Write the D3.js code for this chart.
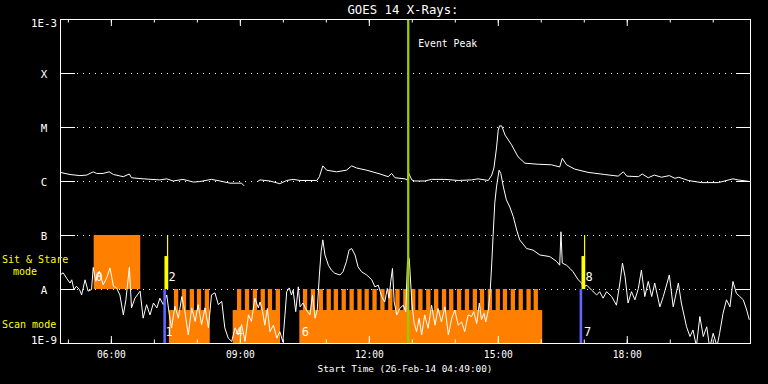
<!DOCTYPE html>
<html>
<head>
<meta charset="utf-8">
<script src="https://cdn.jsdelivr.net/npm/d3@7"></script>
<style>
  body { margin: 0; background: #000; }
  svg { display: block; }
  text { font-family: "DejaVu Sans Mono", monospace; fill: #fff; }
</style>
</head>
<body>
<svg id="chart" width="768" height="384"></svg>
<script>
// GOES 14 long channel (1-8 A): decimal hour of 26-Feb-14, log10 flux (null = data gap)
const longHours = [4.82,5.05,5.28,5.44,5.59,5.67,5.82,5.96,6.06,6.29,
  6.43,6.48,6.75,7.14,7.30,7.45,7.68,7.92,8.07,8.34,
  8.54,8.77,9.04,9.10,9.25,9.41,9.47,9.70,9.93,10.09,
  10.24,10.40,10.79,10.85,10.93,11.02,11.25,11.48,11.60,11.72,
  11.95,12.26,12.45,12.53,12.61,12.84,12.89,12.93,13.00,13.07,
  13.30,13.46,13.77,14.08,14.39,14.54,14.78,14.86,14.91,14.97,
  15.01,15.04,15.09,15.17,15.32,15.47,15.63,15.94,16.25,16.44,
  16.50,16.60,16.79,17.10,17.49,17.80,17.92,18.00,18.27,18.36,
  18.50,18.64,18.81,18.99,19.12,19.21,19.43,19.74,20.13,20.47,
  20.59,20.86];
const longLog = [-5.84,-5.88,-5.90,-5.89,-5.83,-5.86,-5.86,-5.83,-5.88,-5.92,
  -5.87,-5.94,-5.96,-5.98,-5.96,-6.00,-5.97,-6.02,-6.01,-5.97,
  -6.00,-6.04,-6.04,-6.09,null,-6.01,-5.98,-6.00,-6.05,-5.99,
  -5.97,-5.99,-5.99,-5.92,-5.72,-5.80,-5.83,-5.80,-5.72,-5.76,
  -5.80,-5.87,-5.92,-5.86,-5.94,-5.96,-5.98,-5.86,-5.98,-6.00,
  -6.00,-5.97,-5.97,-5.99,-5.98,-5.96,-5.99,-5.89,-5.76,-5.39,
  -5.06,-4.98,-4.98,-5.15,-5.33,-5.55,-5.67,-5.69,-5.70,-5.74,
  -5.58,-5.70,-5.78,-5.84,-5.88,-5.91,-5.83,-5.91,-5.92,-5.87,
  -5.94,-5.89,-5.93,-5.90,-5.95,-5.93,-5.99,-6.03,-6.03,-5.96,
  -5.98,-6.01];

// short channel (0.5-4 A)
const shortHours = [4.82,4.89,4.97,5.05,5.09,5.14,5.20,5.27,5.32,5.40,
  5.47,5.55,5.59,5.65,5.73,5.82,5.90,5.98,6.06,6.13,
  6.21,6.29,6.35,6.43,6.48,6.56,6.68,6.75,6.83,6.91,
  6.99,7.07,7.14,7.22,7.30,7.36,7.41,7.49,7.57,7.65,
  7.72,7.80,7.88,7.96,8.03,8.11,8.19,8.27,8.34,8.42,
  8.50,8.58,8.65,8.73,8.81,8.89,8.96,9.04,9.12,9.20,
  9.27,9.35,9.43,9.47,9.53,9.58,9.64,9.70,9.78,9.86,
  9.93,10.00,10.05,10.09,10.15,10.20,10.24,10.30,10.36,10.40,
  10.47,10.55,10.63,10.69,10.75,10.80,10.85,10.89,10.93,10.98,
  11.06,11.13,11.21,11.33,11.40,11.48,11.54,11.60,11.68,11.75,
  11.83,11.95,12.07,12.14,12.22,12.30,12.37,12.43,12.47,12.51,
  12.55,12.59,12.65,12.72,12.80,12.86,12.90,12.94,13.00,13.05,
  13.11,13.17,13.23,13.30,13.38,13.46,13.54,13.61,13.69,13.77,
  13.85,13.93,14.00,14.08,14.16,14.23,14.31,14.39,14.44,14.51,
  14.57,14.62,14.68,14.72,14.78,14.82,14.86,14.89,14.93,14.97,
  15.03,15.07,15.13,15.20,15.28,15.36,15.44,15.51,15.67,15.82,
  15.98,16.21,16.37,16.44,16.47,16.50,16.60,16.68,16.75,16.87,
  16.95,16.99,17.07,17.18,17.30,17.37,17.45,17.53,17.65,17.76,
  17.84,17.90,17.96,18.03,18.11,18.19,18.27,18.34,18.42,18.50,
  18.58,18.65,18.77,18.85,18.99,19.08,19.20,19.27,19.39,19.47,
  19.54,19.62,19.70,19.78,19.86,19.93,20.01,20.10,20.16,20.24,
  20.32,20.40,20.47,20.55,20.63,20.71,20.79,20.85];
const shortLog = [-7.74,-7.70,-7.80,-7.89,-7.83,-8.01,-7.95,-8.01,-8.11,-7.83,
  -8.04,-8.01,-7.60,-7.86,-7.67,-7.92,-7.80,-7.61,-7.95,-7.98,
  -8.11,-8.48,-8.20,-7.60,-8.35,-8.17,-8.04,-8.54,-8.29,-8.48,
  -8.26,-8.35,-8.17,-8.29,-8.11,-8.48,-8.72,-8.32,-8.54,-8.14,
  -8.41,-8.85,-8.35,-8.60,-8.29,-8.66,-8.35,-8.72,-8.11,-8.07,
  -8.29,-8.23,-8.72,-8.91,-8.97,-8.72,-8.85,-8.66,-8.97,-8.48,
  -8.60,-8.17,-8.35,-8.24,-8.42,-8.67,-8.36,-8.79,-8.67,-8.91,
  -8.79,-8.98,-8.48,-8.05,-7.98,-8.11,-8.02,-8.42,-7.96,-8.33,
  -8.26,-8.39,-8.48,-8.11,-8.54,-8.39,-7.74,-7.31,-7.09,-7.37,
  -7.56,-7.65,-7.71,-7.74,-7.68,-7.49,-7.28,-7.25,-7.37,-7.59,
  -7.68,-7.74,-7.83,-7.96,-7.93,-8.14,-8.24,-7.99,-8.17,-7.86,
  -7.62,-8.24,-8.48,-8.36,-8.30,-8.42,-7.46,-7.43,-8.24,-8.61,
  -8.79,-8.54,-8.85,-8.48,-8.73,-8.30,-8.67,-8.36,-8.61,-8.33,
  -8.85,-8.54,-8.39,-8.67,-8.61,-8.79,-8.48,-8.51,-8.42,-8.64,
  -8.26,-8.57,-8.45,-8.61,-8.39,-8.08,-7.52,-7.03,-6.41,-6.11,
  -5.80,-5.86,-6.11,-6.35,-6.48,-6.66,-6.91,-7.09,-7.25,-7.28,
  -7.37,-7.40,-7.49,-7.56,-6.94,-7.52,-7.56,-7.62,-7.68,-7.83,
  -7.89,-7.96,-7.93,-8.02,-8.11,-8.05,-8.17,-8.05,-8.14,-8.30,
  -7.89,-7.52,-7.77,-8.26,-8.05,-8.20,-7.99,-7.65,-8.14,-7.86,
  -8.14,-7.89,-8.33,-8.14,-7.74,-8.33,-7.89,-8.26,-8.70,-8.88,
  -8.76,-9.06,-8.51,-8.88,-8.70,-9.09,-8.82,-9.06,-8.82,-8.45,
  -8.20,-8.33,-7.86,-8.08,-8.14,-8.20,-8.39,-8.57];

// y axis decades and their labels
const levels = [1e-9, 1e-8, 1e-7, 1e-6, 1e-5, 1e-4, 1e-3];
const levelLabels = ["1E-9", "A", "B", "C", "M", "X", "1E-3"];

// IRIS observing modes
const sitStareStart = ["05:36"];
const sitStareEnd = ["06:41"];
const scanStart = ["07:21", "08:50", "10:23"];
const scanEnd = ["08:18", "09:56", "16:02"];
const scanSpikes = ["07:28","07:39","07:50","08:00","08:11",
  "08:56","09:07","09:18","09:29","09:39","09:50",
  "10:28","10:39","10:50","11:01","11:11","11:22","11:33","11:44","11:54",
  "12:05","12:16","12:27","12:37","12:48","12:59","13:09","13:20","13:31",
  "13:42","13:52","14:03","14:14","14:25","14:35","14:46","14:57","15:07",
  "15:18","15:29","15:40","15:50"];
const spikeMinutes = 6;

// markers
const blueMarks = ["07:15", "16:56"];
const yellowMarks = ["07:19", "17:01"];
const eventPeak = "12:55";
const eventIds = ["0", "1", "2", "4", "6", "7", "8"];
const eventTimes = ["05:37", "07:15", "07:19", "08:53", "10:25", "16:59", "17:01"];
const eventBand = ["upper", "lower", "upper", "lower", "lower", "lower", "upper"];

const day = Date.UTC(2014, 1, 26);
const atHour = h => new Date(day + h * 3600e3);
const atClock = s => { const [H, M] = s.split(":").map(Number); return atHour(H + M / 60); };

const svg = d3.select("#chart");
const plotLeft = 60, plotRight = 750, plotTop = 19, plotBottom = 343;

const x = d3.scaleUtc().domain([atClock("04:49"), atClock("20:52")]).range([plotLeft, plotRight]);
const y = d3.scaleLog().domain([1e-9, 1e-3]).range([plotBottom, plotTop]);

svg.append("rect").attr("width", 768).attr("height", 384).attr("fill", "#000");

// dotted grid lines
svg.append("g").selectAll("line")
  .data(levels.slice(1, -1))
  .join("line")
  .attr("x1", 77).attr("x2", 736)
  .attr("y1", d => y(d) + 0.5).attr("y2", d => y(d) + 0.5)
  .attr("stroke", "#fff").attr("stroke-dasharray", "1 5");

const orange = "#ff8000";
const modes = svg.append("g").attr("fill", orange);

// sit & stare blocks
modes.selectAll("rect.ss")
  .data(sitStareStart.map((s, i) => [atClock(s), atClock(sitStareEnd[i])]))
  .join("rect").attr("class", "ss")
  .attr("x", d => x(d[0])).attr("width", d => x(d[1]) - x(d[0]))
  .attr("y", y(1e-7)).attr("height", y(1e-8) - y(1e-7));

// scan mode base blocks
const scanTop = Math.pow(10, -8.39);
modes.selectAll("rect.scan")
  .data(scanStart.map((s, i) => [atClock(s), atClock(scanEnd[i])]))
  .join("rect").attr("class", "scan")
  .attr("x", d => x(d[0])).attr("width", d => x(d[1]) - x(d[0]))
  .attr("y", y(scanTop)).attr("height", y(1e-9) - y(scanTop));

// scan raster spikes
modes.selectAll("rect.spike")
  .data(scanSpikes.map(atClock))
  .join("rect").attr("class", "spike")
  .attr("x", d => x(d)).attr("width", d => x(new Date(+d + spikeMinutes * 60e3)) - x(d))
  .attr("y", y(1e-8)).attr("height", y(1e-9) - y(1e-8));

// light curves
svg.append("clipPath").attr("id", "plot")
  .append("rect").attr("x", plotLeft).attr("y", plotTop)
  .attr("width", plotRight - plotLeft).attr("height", plotBottom - plotTop);

const line = d3.line()
  .defined(d => d.v !== null)
  .x(d => x(atHour(d.t)))
  .y(d => y(Math.pow(10, d.v)));

const curves = svg.append("g").attr("clip-path", "url(#plot)")
  .attr("fill", "none").attr("stroke", "#fff").attr("stroke-width", 1);
curves.append("path").attr("d", line(longHours.map((t, i) => ({ t, v: longLog[i] }))));
curves.append("path").attr("d", line(shortHours.map((t, i) => ({ t, v: shortLog[i] }))));

// blue and yellow markers
svg.append("g").selectAll("rect")
  .data(blueMarks.map(atClock))
  .join("rect")
  .attr("x", d => x(d) - 1.3).attr("width", 2.6)
  .attr("y", y(1e-8)).attr("height", y(1e-9) - y(1e-8))
  .attr("fill", "#6464ff");

const yel = svg.append("g").attr("fill", "#ffff00");
yel.selectAll("rect.thin")
  .data(yellowMarks.map(atClock))
  .join("rect").attr("class", "thin")
  .attr("x", d => x(d) - 0.5).attr("width", 1.2)
  .attr("y", y(1e-7)).attr("height", y(1e-8) - y(1e-7));
const thickTop = Math.pow(10, -7.39);
yel.selectAll("rect.thick")
  .data(yellowMarks.map(atClock))
  .join("rect").attr("class", "thick")
  .attr("x", d => x(d) - 3).attr("width", 3.6)
  .attr("y", y(thickTop)).attr("height", y(1e-8) - y(thickTop));

// event numbers
svg.append("g").selectAll("text")
  .data(eventIds)
  .join("text")
  .attr("x", (d, i) => x(atClock(eventTimes[i])) + 1)
  .attr("y", (d, i) => eventBand[i] === "upper" ? y(1e-8) - 8 : y(1e-9) - 7)
  .attr("font-size", 12)
  .text(d => d);

// event peak
const peakX = x(atClock(eventPeak));
svg.append("line")
  .attr("x1", peakX).attr("x2", peakX).attr("y1", plotTop).attr("y2", plotBottom)
  .attr("stroke", "#99cc00").attr("stroke-width", 2.3);
svg.append("text").attr("x", peakX + 10).attr("y", 47)
  .attr("font-size", 9.8).text("Event Peak");

// axes
const axisStyle = g => {
  g.select(".domain").remove();
  g.selectAll("line").attr("stroke", "#fff");
  g.selectAll("text").attr("fill", "#fff").attr("font-size", 9.6)
    .attr("font-family", "DejaVu Sans Mono");
};
svg.append("g").attr("transform", `translate(0,${plotBottom})`)
  .call(d3.axisBottom(x).ticks(d3.utcHour.every(1)).tickSize(-3.5).tickFormat(""))
  .call(axisStyle);
svg.append("g").attr("transform", `translate(0,${plotBottom})`)
  .call(d3.axisBottom(x).ticks(d3.utcHour.every(3)).tickSize(-7).tickPadding(8)
    .tickFormat(d3.utcFormat("%H:%M")))
  .call(axisStyle);
svg.append("g").attr("transform", `translate(0,${plotTop})`)
  .call(d3.axisTop(x).ticks(d3.utcHour.every(1)).tickSize(-3.5).tickFormat(""))
  .call(axisStyle);
svg.append("g").attr("transform", `translate(0,${plotTop})`)
  .call(d3.axisTop(x).ticks(d3.utcHour.every(3)).tickSize(-7).tickFormat(""))
  .call(axisStyle);
svg.append("g").attr("transform", `translate(${plotLeft},0)`)
  .call(d3.axisLeft(y).tickValues(levels.slice(1, -1)).tickSize(-15).tickFormat(""))
  .call(axisStyle);
svg.append("g").attr("transform", `translate(${plotRight},0)`)
  .call(d3.axisRight(y).tickValues(levels.slice(1, -1)).tickSize(-14).tickFormat(""))
  .call(axisStyle);

svg.append("rect")
  .attr("x", plotLeft + 0.5).attr("y", plotTop + 0.5)
  .attr("width", plotRight - plotLeft).attr("height", plotBottom - plotTop)
  .attr("fill", "none").attr("stroke", "#fff");

svg.append("g").selectAll("text")
  .data(levels)
  .join("text")
  .attr("x", 44)
  .attr("y", d => Math.min(344, Math.max(27, y(d) + 5)))
  .attr("text-anchor", "middle")
  .attr("font-size", 10.8)
  .text((d, i) => levelLabels[i]);

// titles
svg.append("text").attr("x", 403).attr("y", 14).attr("text-anchor", "middle")
  .attr("font-size", 12.3).text("GOES 14 X-Rays:");
svg.append("text").attr("x", 405).attr("y", 372).attr("text-anchor", "middle")
  .attr("font-size", 9.4).text("Start Time (26-Feb-14 04:49:00)");

// mode labels
const modeText = svg.append("g").attr("font-size", 10);
modeText.append("text").attr("x", 2).attr("y", 263).style("fill", "#ffff00").text("Sit & Stare");
modeText.append("text").attr("x", 13).attr("y", 275).style("fill", "#ffff00").text("mode");
modeText.append("text").attr("x", 2).attr("y", 328).style("fill", "#ffff00").text("Scan mode");
</script>
</body>
</html>
